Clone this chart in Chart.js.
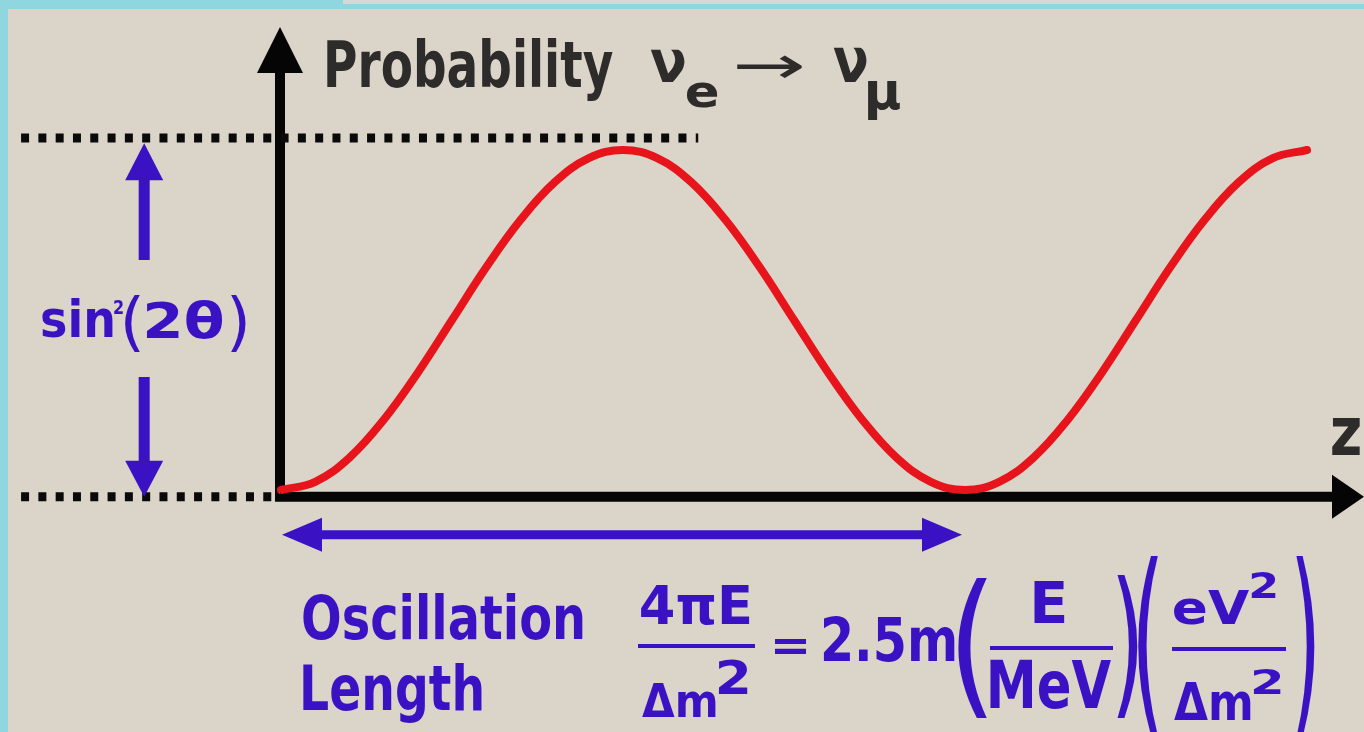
<!DOCTYPE html>
<html>
<head>
<meta charset="utf-8">
<title>Neutrino oscillation probability</title>
<script src="https://cdn.jsdelivr.net/npm/chart.js@4/dist/chart.umd.min.js"></script>
<style>
  html, body { margin: 0; padding: 0; overflow: hidden; background: #8fd6de; }
  #wrap { width: 1364px; height: 732px; position: relative; }
</style>
</head>
<body>
<div id="wrap"><canvas id="oscChart"></canvas></div>
<script>
// distance along z, in units of one oscillation length
const zPos = [0, 0.05, 0.1, 0.15, 0.2, 0.25, 0.3, 0.35, 0.4, 0.45, 0.5,
              0.55, 0.6, 0.65, 0.7, 0.75, 0.8, 0.85, 0.9, 0.95, 1.0,
              1.05, 1.1, 1.15, 1.2, 1.25, 1.3, 1.35, 1.4, 1.45, 1.5];
// probability of nu_e -> nu_mu, in units of sin^2(2 theta)
const prob = [0, 0.024, 0.095, 0.206, 0.345, 0.5, 0.655, 0.794, 0.905, 0.976, 1.0,
              0.976, 0.905, 0.794, 0.655, 0.5, 0.345, 0.206, 0.095, 0.024, 0,
              0.024, 0.095, 0.206, 0.345, 0.5, 0.655, 0.794, 0.905, 0.976, 1.0];
// dotted guide lines: amplitude level and zero level
const topGuideX = [-0.38, 0.61];
const topGuideY = [1.035, 1.035];
const baseGuideX = [-0.38, 0];
const baseGuideY = [-0.02, -0.02];
// double arrows marking amplitude and oscillation length
const ampArrowX = -0.2;
const ampArrowY = [1.02, -0.02];
const lengthArrowX = [0, 1];
const lengthArrowY = -0.132;

const INK = '#2e2b2b';
const PURPLE = '#3a12c4';
const RED = '#e8141c';
const FONT = '"DejaVu Sans", Verdana, sans-serif';

const pts = (xs, ys) => xs.map((x, i) => ({ x: x, y: ys[i] }));

// draw text stretched so its ink fills the box (x0,y0)-(x1,y1)
function boxText(ctx, text, x0, y0, x1, y1, color, weight) {
    ctx.save();
    ctx.font = (weight || 'bold') + ' 48px ' + FONT;
    ctx.textAlign = 'left';
    ctx.textBaseline = 'alphabetic';
    const m = ctx.measureText(text);
    const w = m.actualBoundingBoxLeft + m.actualBoundingBoxRight;
    const h = m.actualBoundingBoxAscent + m.actualBoundingBoxDescent;
    const sx = (x1 - x0) / w, sy = (y1 - y0) / h;
    ctx.translate(x0 + m.actualBoundingBoxLeft * sx, y0 + m.actualBoundingBoxAscent * sy);
    ctx.scale(sx, sy);
    ctx.fillStyle = color;
    ctx.fillText(text, 0, 0);
    ctx.restore();
}

function arrowHead(ctx, tx, ty, dx, dy, len, half) {
    // tip at (tx,ty), pointing along (dx,dy)
    const bx = tx - dx * len, by = ty - dy * len;
    ctx.beginPath();
    ctx.moveTo(tx, ty);
    ctx.lineTo(bx - dy * half, by + dx * half);
    ctx.lineTo(bx + dy * half, by - dx * half);
    ctx.closePath();
    ctx.fill();
}

function fracBar(ctx, x0, x1, y) {
    ctx.fillStyle = PURPLE;
    ctx.fillRect(x0, y - 2, x1 - x0, 4);
}

const backdrop = {
    id: 'backdrop',
    beforeDraw(chart) {
        const ctx = chart.ctx;
        ctx.save();
        ctx.fillStyle = '#8fd6de';
        ctx.fillRect(0, 0, chart.width, chart.height);
        ctx.fillStyle = '#d7d7d7';
        ctx.fillRect(343, 0, chart.width - 343, 4);
        ctx.fillStyle = '#dbd4c9';
        ctx.fillRect(8, 9, chart.width - 8, chart.height - 9);
        ctx.restore();
    }
};

const axesArrows = {
    id: 'axesArrows',
    beforeDatasetsDraw(chart) {
        const ctx = chart.ctx;
        const x0 = chart.scales.x.getPixelForValue(0) - 1;
        const y0 = chart.scales.y.getPixelForValue(-0.02);
        ctx.save();
        ctx.strokeStyle = '#050505';
        ctx.fillStyle = '#050505';
        ctx.lineWidth = 10;
        ctx.beginPath();
        ctx.moveTo(x0, y0 + 5);
        ctx.lineTo(x0, 70);
        ctx.moveTo(x0 - 5, y0);
        ctx.lineTo(1334, y0);
        ctx.stroke();
        arrowHead(ctx, x0, 27, 0, -1, 46, 23);
        arrowHead(ctx, 1364, y0, 1, 0, 32, 22);
        ctx.restore();
    },
    afterDatasetsDraw(chart) {
        const ctx = chart.ctx;
        const xs = chart.scales.x, ys = chart.scales.y;
        ctx.save();
        ctx.strokeStyle = PURPLE;
        ctx.fillStyle = PURPLE;

        // amplitude arrows, split around the sin^2(2θ) label
        const ax = xs.getPixelForValue(ampArrowX);
        const aTop = ys.getPixelForValue(ampArrowY[0]);
        const aBot = ys.getPixelForValue(ampArrowY[1]);
        ctx.lineWidth = 11;
        ctx.beginPath();
        ctx.moveTo(ax, aTop + 30);
        ctx.lineTo(ax, 260);
        ctx.moveTo(ax, 377);
        ctx.lineTo(ax, aBot - 30);
        ctx.stroke();
        arrowHead(ctx, ax, aTop, 0, -1, 37, 19);
        arrowHead(ctx, ax, aBot, 0, 1, 36, 19);

        // oscillation length arrow
        const lx0 = xs.getPixelForValue(lengthArrowX[0]) + 1;
        const lx1 = xs.getPixelForValue(lengthArrowX[1]) - 3;
        const ly = ys.getPixelForValue(lengthArrowY);
        ctx.lineWidth = 9;
        ctx.beginPath();
        ctx.moveTo(lx0 + 30, ly);
        ctx.lineTo(lx1 - 30, ly);
        ctx.stroke();
        arrowHead(ctx, lx0, ly, -1, 0, 40, 17);
        arrowHead(ctx, lx1, ly, 1, 0, 40, 17);
        ctx.restore();
    },
    afterDraw(chart) {
        const ctx = chart.ctx;
        // axis title
        boxText(ctx, 'Probability', 327, 37, 613, 100, INK);
        boxText(ctx, 'ν', 650, 50, 685, 83, INK);
        boxText(ctx, 'e', 687, 82, 718, 108, INK);
        boxText(ctx, '→', 736, 55, 802, 79, INK, 'normal');
        boxText(ctx, 'ν', 833, 48, 867, 83, INK);
        boxText(ctx, 'μ', 868, 82, 900, 120, INK);
        boxText(ctx, 'z', 1332, 418, 1360, 455, INK);

        // amplitude label
        boxText(ctx, 'sin', 42, 297, 113, 338, PURPLE);
        boxText(ctx, '2', 114, 300, 123, 314, PURPLE);
        boxText(ctx, '(', 125, 295, 140, 352, PURPLE, 'normal');
        boxText(ctx, '2θ', 146, 299, 222, 339, PURPLE);
        boxText(ctx, ')', 230, 295, 246, 352, PURPLE, 'normal');

        // oscillation length formula
        boxText(ctx, 'Oscillation', 303, 592, 583, 640, PURPLE);
        boxText(ctx, 'Length', 303, 662, 482, 723, PURPLE);
        boxText(ctx, '4πE', 641, 585, 750, 625, PURPLE);
        fracBar(ctx, 638, 755, 646);
        boxText(ctx, 'Δm', 642, 683, 716, 717, PURPLE);
        boxText(ctx, '2', 718, 660, 748, 694, PURPLE);
        boxText(ctx, '=', 775, 637, 807, 653, PURPLE);
        boxText(ctx, '2.5m', 823, 615, 955, 662, PURPLE);
        boxText(ctx, '(', 958, 577, 987, 717, PURPLE, 'normal');
        boxText(ctx, 'E', 1034, 581, 1065, 623, PURPLE);
        fracBar(ctx, 990, 1113, 648);
        boxText(ctx, 'MeV', 990, 659, 1111, 709, PURPLE);
        boxText(ctx, ')', 1116, 574, 1138, 717, PURPLE, 'normal');
        boxText(ctx, '(', 1138, 554, 1158, 734, PURPLE, 'normal');
        boxText(ctx, 'eV', 1174, 591, 1249, 625, PURPLE);
        boxText(ctx, '2', 1251, 572, 1276, 598, PURPLE);
        fracBar(ctx, 1172, 1286, 649);
        boxText(ctx, 'Δm', 1174, 683, 1251, 720, PURPLE);
        boxText(ctx, '2', 1253, 669, 1281, 694, PURPLE);
        boxText(ctx, ')', 1295, 554, 1315, 736, PURPLE, 'normal');
    }
};

const dotted = {
    borderColor: '#0a0a0a',
    borderWidth: 9,
    borderDash: [8, 9.3],
    borderCapStyle: 'butt',
    pointRadius: 0,
    fill: false
};

new Chart(document.getElementById('oscChart'), {
    type: 'line',
    data: {
        datasets: [
            Object.assign({ label: 'amplitude', data: pts(topGuideX, topGuideY) }, dotted),
            Object.assign({ label: 'zero', data: pts(baseGuideX, baseGuideY) }, dotted),
            {
                label: 'P(νe → νμ)',
                data: pts(zPos, prob),
                borderColor: RED,
                borderWidth: 8,
                pointRadius: 0,
                tension: 0.4,
                borderCapStyle: 'round',
                borderJoinStyle: 'round',
                fill: false
            }
        ]
    },
    options: {
        responsive: true,
        maintainAspectRatio: false,
        animation: false,
        layout: { padding: 0 },
        plugins: { legend: { display: false }, tooltip: { enabled: false } },
        scales: {
            x: { type: 'linear', display: false, min: -0.4108, max: 1.5833 },
            y: { type: 'linear', display: false, min: -0.7118, max: 1.4412 }
        }
    },
    plugins: [backdrop, axesArrows]
});
</script>
</body>
</html>
